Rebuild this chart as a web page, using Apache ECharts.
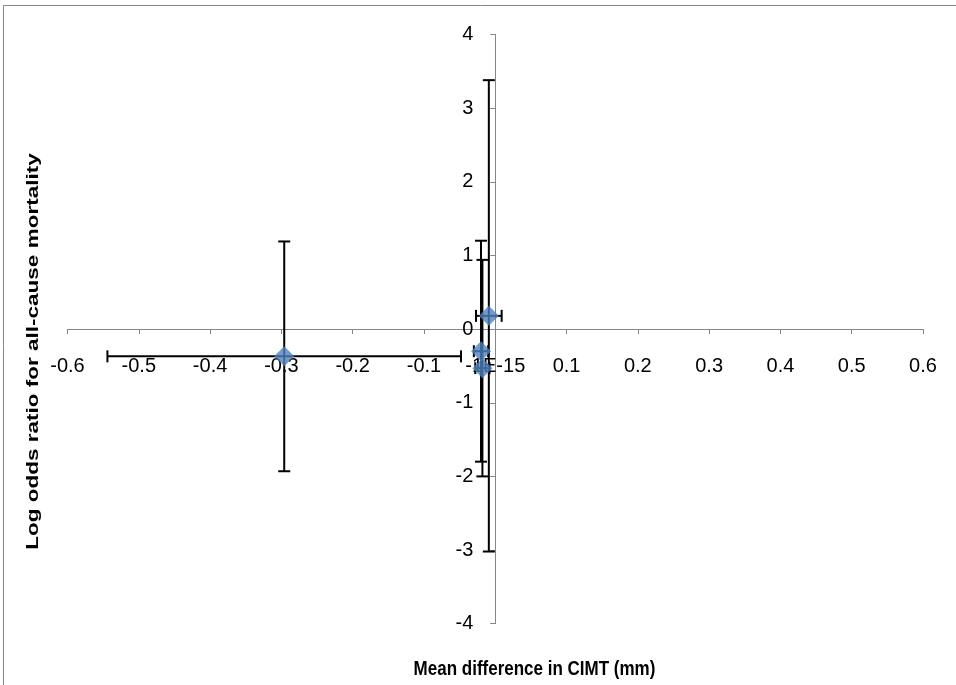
<!DOCTYPE html>
<html>
<head>
<meta charset="utf-8">
<script src="https://cdn.jsdelivr.net/npm/echarts@6/dist/echarts.min.js"></script>
<style>
  html, body { margin: 0; padding: 0; background: #fff; }
  #chart { width: 956px; height: 685px; }
</style>
</head>
<body>
<div id="chart"></div>
<script>
// 数据：每个研究的均值差 / 对数比值比 以及误差
const xVals = [-0.296, -0.009, -0.020, -0.018];
const yVals = [-0.37, 0.18, -0.30, -0.53];
const xErr = [0.248, 0.018, 0.010, 0.010];
const yErr = [1.56, 3.2, 1.5, 1.47];

// 坐标轴刻度文字（Excel 里 0 显示成 -1E-15）
const xTickLabels = ['-0.6', '-0.5', '-0.4', '-0.3', '-0.2', '-0.1', '-1E-15', '0.1', '0.2', '0.3', '0.4', '0.5', '0.6'];
const yTickLabels = ['-4', '-3', '-2', '-1', '0', '1', '2', '3', '4'];

const xTitle = 'Mean difference in CIMT (mm)';
const yTitle = 'Log odds ratio for all-cause mortality';

var myChart = echarts.init(document.getElementById('chart'));

const points = xVals.map((x, i) => [x, yVals[i]]);
const errData = xVals.map((x, i) => [x, yVals[i], xErr[i], yErr[i]]);

const axisGray = '#868686';
const font = 'Liberation Sans, Arial, sans-serif';

// 绘图区
const gLeft = 67.5, gRight = 33, gTop = 34.5, gBottom = 61.3;
const gW = 956 - gLeft - gRight, gH = 685 - gTop - gBottom;

let option = {
    animation: false,
    grid: {
        left: gLeft,
        right: gRight,
        top: gTop,
        bottom: gBottom
    },
    xAxis: {
        type: 'value',
        min: -0.6,
        max: 0.6,
        interval: 0.1,
        // 坐标轴移到 y=0 处
        offset: -gH / 2,
        axisLine: { onZero: false, lineStyle: { color: axisGray, width: 1 } },
        axisTick: { show: true, length: 5, lineStyle: { color: axisGray } },
        splitLine: { show: false },
        axisLabel: {
            margin: 27,
            color: '#000',
            fontSize: 20,
            fontFamily: font,
            showMinLabel: true,
            showMaxLabel: true,
            formatter: function (v) {
                let i = Math.round((v + 0.6) / 0.1);
                return xTickLabels[i];
            }
        }
    },
    yAxis: {
        type: 'value',
        min: -4,
        max: 4,
        interval: 1,
        // 坐标轴移到 x=0 处
        offset: -gW / 2,
        axisLine: { onZero: false, lineStyle: { color: axisGray, width: 1 } },
        axisTick: { show: true, length: 5, lineStyle: { color: axisGray } },
        splitLine: { show: false },
        axisLabel: {
            margin: 22,
            color: '#000',
            fontSize: 20,
            fontFamily: font,
            formatter: function (v) {
                return yTickLabels[Math.round(v + 4)];
            }
        }
    },
    series: [
        {
            // 误差线
            type: 'custom',
            z: 2,
            data: errData,
            renderItem: function (params, api) {
                let x = api.value(0), y = api.value(1);
                let ex = api.value(2), ey = api.value(3);
                let top = api.coord([x, y + ey]);
                let bot = api.coord([x, y - ey]);
                let lft = api.coord([x - ex, y]);
                let rgt = api.coord([x + ex, y]);
                let cap = 6;
                let st = { stroke: '#000', lineWidth: 2 };
                let seg = (x1, y1, x2, y2) => ({
                    type: 'line',
                    shape: { x1: x1, y1: y1, x2: x2, y2: y2 },
                    style: st
                });
                return {
                    type: 'group',
                    children: [
                        seg(top[0], top[1], bot[0], bot[1]),
                        seg(top[0] - cap, top[1], top[0] + cap, top[1]),
                        seg(bot[0] - cap, bot[1], bot[0] + cap, bot[1]),
                        seg(lft[0], lft[1], rgt[0], rgt[1]),
                        seg(lft[0], lft[1] - cap, lft[0], lft[1] + cap),
                        seg(rgt[0], rgt[1] - cap, rgt[0], rgt[1] + cap)
                    ]
                };
            }
        },
        {
            type: 'scatter',
            z: 3,
            symbol: 'diamond',
            symbolSize: 20,
            itemStyle: { color: '#4F81BD' },
            data: points
        }
    ],
    graphic: [
        {
            type: 'rect',
            shape: { x: 3.5, y: 5.5, width: 1000, height: 1000 },
            style: { fill: 'none', stroke: axisGray, lineWidth: 1 },
            silent: true
        },
        {
            type: 'text',
            x: 534.5,
            y: 669,
            scaleX: 0.85,
            style: {
                text: xTitle,
                font: 'bold 20px ' + font,
                fill: '#000',
                textAlign: 'center',
                textVerticalAlign: 'middle'
            }
        },
        {
            type: 'text',
            x: 33,
            y: 351.5,
            rotation: Math.PI / 2,
            scaleX: 1.25,
            scaleY: 0.95,
            style: {
                text: yTitle,
                font: 'bold 18px ' + font,
                fill: '#000',
                textAlign: 'center',
                textVerticalAlign: 'middle'
            }
        }
    ]
};

myChart.setOption(option);
</script>
</body>
</html>
